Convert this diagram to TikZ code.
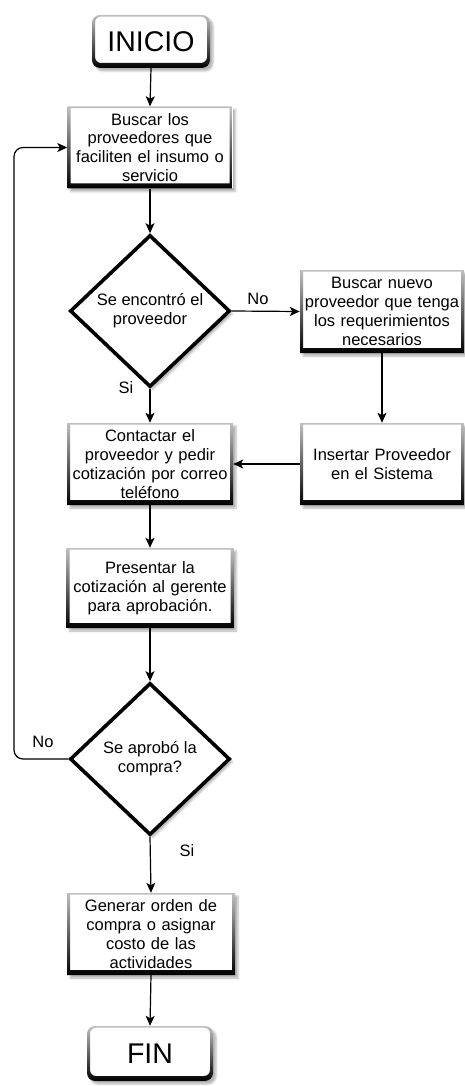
\documentclass[tikz,border=0pt]{standalone}
\usepackage{fontspec}
\setmainfont{Liberation Sans}
\usetikzlibrary{shapes.geometric,arrows.meta,shadows.blur}

\begin{document}
\begin{tikzpicture}[x=1pt,y=-1pt,
  every node/.style={font=\fontsize{16.5}{18.8}\selectfont},
  softshadow/.style={blur shadow={shadow xshift=3pt,shadow yshift=-3pt,
      shadow blur radius=2pt,shadow opacity=30}},
  % frame shaded from light grey at the top to black at the bottom
  gframe/.style={path picture={
      \shade[even odd rule,top color=black!25,middle color=black,bottom color=black]
        (path picture bounding box.south west) rectangle (path picture bounding box.north east)
        [rounded corners=#1]
        ([shift={(3pt,-1.6pt)}]path picture bounding box.north west) rectangle
        ([shift={(-3pt,5pt)}]path picture bounding box.south east);}},
  procbox/.style={rectangle,fill=white,softshadow,gframe=0pt,inner sep=0pt,
      align=center,text width=160pt,minimum height=82pt},
  termbox/.style={rectangle,rounded corners=8pt,fill=white,softshadow,gframe=6pt,
      inner sep=0pt,font=\fontsize{28.5}{30}\selectfont},
  decision/.style={diamond,aspect=1,fill=white,draw=black,line width=3.6pt,
      softshadow,inner sep=0pt,minimum width=160pt,minimum height=152pt,align=center},
  arr/.style={draw=black,line width=1.2pt,-{Stealth[length=10pt,width=9pt,inset=2.5pt]}},
  lbl/.style={inner sep=0pt}
]
\useasboundingbox (0,0) rectangle (464,1086);

% start and end terminals
\node[termbox,minimum width=118pt,minimum height=53pt] (ini) at (151,41.5) {INICIO};
\node[termbox,minimum width=126pt,minimum height=55pt] (fin) at (150,1053.5) {FIN};

% process steps
\node[procbox,minimum width=165pt] (buscar) at (150,147.5)
  {Buscar los\\proveedores que\\faciliten el insumo o\\servicio};
\node[decision] (encontro) at (150,311) {Se encontró el\\proveedor};
\node[procbox,minimum width=164pt,minimum height=83pt] (nuevo) at (382,311.5)
  {Buscar nuevo\\proveedor que tenga\\los requerimientos\\necesarios};
\node[procbox,minimum width=164pt] (insertar) at (382,464)
  {Insertar Proveedor\\en el Sistema};
\node[procbox,minimum width=166pt] (contactar) at (150,464)
  {Contactar el\\proveedor y pedir\\cotización por correo\\teléfono};
\node[procbox,minimum width=167pt,minimum height=80pt] (presentar) at (150,588)
  {Presentar la\\cotización al gerente\\para aprobación.};
\node[decision] (aprobo) at (150,759) {Se aprobó la\\compra?};
\node[procbox,minimum width=168pt] (generar) at (151,934)
  {Generar orden de\\compra o asignar\\costo de las\\actividades};

% branch labels
\node[lbl] (no1) at (258,299) {No};
\node[lbl] (si1) at (126,388) {Si};
\node[lbl] (no2) at (43,742) {No};
\node[lbl] (si2) at (187,851) {Si};

% connectors
\draw[arr] (ini.south) -- (buscar.north);
\draw[arr] (buscar.south) -- (encontro.north);
\draw[arr] (encontro.east) -- (nuevo.west);
\draw[arr] (nuevo.south) -- (insertar.north);
\draw[arr] (insertar.west) -- (contactar.east);
\draw[arr] (encontro.south) -- (contactar.north);
\draw[arr] (contactar.south) -- (presentar.north);
\draw[arr] (presentar.south) -- (aprobo.north);
\draw[arr] (aprobo.south) -- (generar.north);
\draw[arr] (generar.south) -- (fin.north);

% rejected quotation loops back to the search step
\coordinate (loopx) at (14,0);
\draw[arr,rounded corners=9pt] (aprobo.west) -- (aprobo.west -| loopx)
  -- (buscar.west -| loopx) -- (buscar.west);
\end{tikzpicture}
\end{document}
